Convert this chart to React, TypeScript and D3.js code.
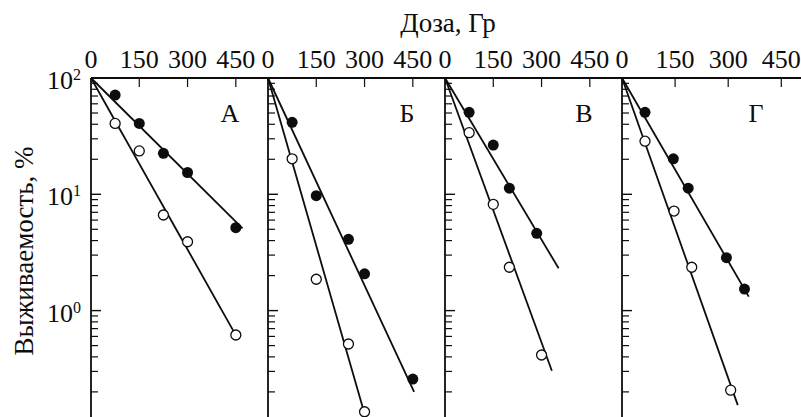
import React from "react";
import * as d3 from "d3";

// panel letters and dose axis
const panels = ["А", "Б", "В", "Г"];
const doseTicks = [0, 150, 300, 450];
const doseMax = [550, 550, 550, 500];
const survTicks = [100, 10, 1];

// filled circles
const filledDose = [
  [75, 150, 225, 300, 450],
  [75, 150, 250, 300, 450],
  [75, 150, 200, 285],
  [65, 145, 187, 295, 346],
];
const filledSurv = [
  [71.4, 40.7, 22.5, 15.4, 5.16],
  [41.6, 9.72, 4.1, 2.07, 0.258],
  [50.7, 26.5, 11.3, 4.62],
  [50.7, 20.2, 11.3, 2.85, 1.53],
];

// open circles
const openDose = [
  [75, 150, 225, 300, 450],
  [75, 150, 250, 300],
  [75, 150, 200, 300],
  [65, 147, 197, 307],
];
const openSurv = [
  [40.7, 23.6, 6.64, 3.91, 0.617],
  [20.2, 1.86, 0.516, 0.135],
  [33.9, 8.2, 2.36, 0.415],
  [28.6, 7.18, 2.36, 0.207],
];

// fitted lines: start at (0, 100), end here
const filledFitDose = [471, 454, 353, 358];
const filledFitSurv = [5.1, 0.2, 2.31, 1.32];
const openFitDose = [452, 300, 332, 327];
const openFitSurv = [0.6, 0.13, 0.304, 0.154];

const W = 801;
const H = 417;
const left = 91;
const panelW = 177;
const top = 78;
const font = "Liberation Serif";
const ink = "#0d0d0d";

const App = () => {
  const y = d3.scaleLog().domain([0.1, 100]).range([top + 3 * 116.3, top]);
  const minor: number[] = [];
  [0.1, 1, 10].forEach((d) => {
    for (let k = 2; k <= 9; k++) minor.push(d * k);
  });
  const line = d3.line<[number, number]>();

  return (
    <svg
      width={W}
      height={H}
      style={{ position: "absolute", left: 0, top: 0, background: "#fff", fontFamily: font }}
    >
      <text x={448} y={32} fontSize={27} textAnchor="middle" fill={ink}>
        Доза, Гр
      </text>
      <text
        transform={`translate(33, 251) rotate(-90)`}
        fontSize={27}
        textAnchor="middle"
        fill={ink}
      >
        Выживаемость, %
      </text>

      {/* top axis line */}
      <line x1={left} x2={W} y1={top} y2={top} stroke={ink} strokeWidth={1.8} />

      {survTicks.map((v) => (
        <text key={v} x={81} y={y(v) + 11} fontSize={26} textAnchor="end" fill={ink}>
          10
          <tspan dy={-9} fontSize={16}>
            {Math.round(Math.log10(v))}
          </tspan>
        </text>
      ))}

      {panels.map((name, p) => {
        const x0 = left + p * panelW;
        const x = d3.scaleLinear().domain([0, doseMax[p]]).range([x0, x0 + panelW]);
        const fFit = line([
          [x(0), y(100)],
          [x(filledFitDose[p]), y(filledFitSurv[p])],
        ]);
        const oFit = line([
          [x(0), y(100)],
          [x(openFitDose[p]), y(openFitSurv[p])],
        ]);
        return (
          <g key={name}>
            {/* left axis */}
            <line x1={x0} x2={x0} y1={top} y2={H + 20} stroke={ink} strokeWidth={1.8} />
            {minor.map((v) => (
              <line key={v} x1={x0} x2={x0 + 7} y1={y(v)} y2={y(v)} stroke={ink} strokeWidth={1.2} />
            ))}
            {[10, 1].map((v) => (
              <line key={v} x1={x0} x2={x0 + 10} y1={y(v)} y2={y(v)} stroke={ink} strokeWidth={1.4} />
            ))}
            {/* top ticks */}
            {doseTicks.map((t) => (
              <g key={t}>
                {t > 0 && (
                  <line x1={x(t)} x2={x(t)} y1={top} y2={top + 9} stroke={ink} strokeWidth={1.2} />
                )}
                <text x={x(t)} y={68} fontSize={26} textAnchor="middle" fill={ink}>
                  {t}
                </text>
              </g>
            ))}
            <text x={x0 + (p === 3 ? 134 : 139)} y={122} fontSize={26} textAnchor="middle" fill={ink}>
              {name}
            </text>
            <path d={fFit || ""} stroke={ink} strokeWidth={1.8} fill="none" />
            <path d={oFit || ""} stroke={ink} strokeWidth={1.8} fill="none" />
            {filledDose[p].map((d, i) => (
              <circle key={"f" + i} cx={x(d)} cy={y(filledSurv[p][i])} r={5.5} fill={ink} />
            ))}
            {openDose[p].map((d, i) => (
              <circle
                key={"o" + i}
                cx={x(d)}
                cy={y(openSurv[p][i])}
                r={5}
                fill="#fff"
                stroke={ink}
                strokeWidth={1.3}
              />
            ))}
          </g>
        );
      })}
    </svg>
  );
};

export default App;
